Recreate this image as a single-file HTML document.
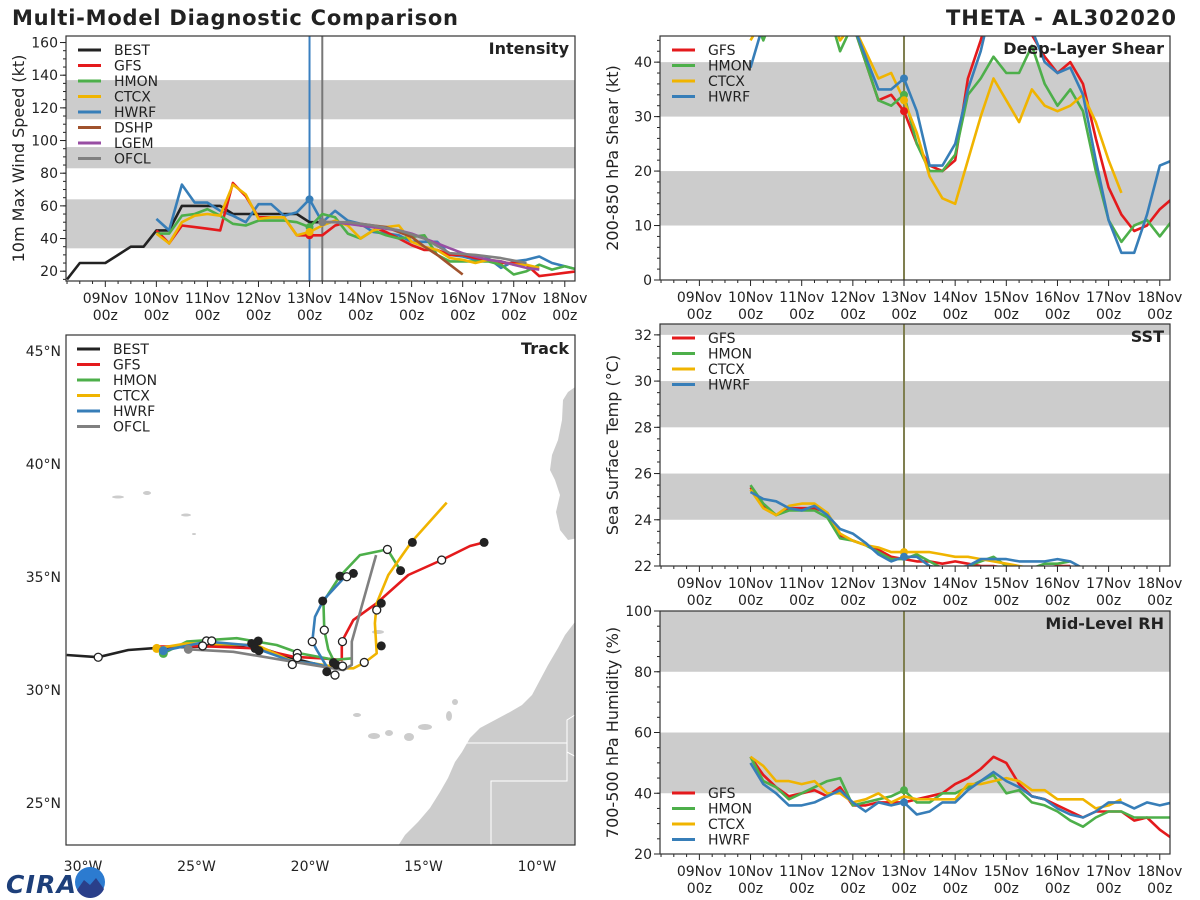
<!DOCTYPE html>
<html><head><meta charset="utf-8"><style>
html,body{margin:0;padding:0;background:#fff;}
svg{display:block;font-family:"DejaVu Sans","Liberation Sans",sans-serif;}
</style></head><body>
<svg id="fig" width="1200" height="900" viewBox="0 0 1200 900" xmlns="http://www.w3.org/2000/svg">
<rect width="1200" height="900" fill="#fff"/>
<text x="12" y="25" font-size="21" font-weight="bold" fill="#222" textLength="446">Multi-Model Diagnostic Comparison</text>
<text x="1176" y="25" font-size="21" font-weight="bold" fill="#222" text-anchor="end" textLength="230">THETA - AL302020</text>
<g id="logo">
<text x="6" y="893" font-size="25" font-weight="bold" fill="#1d3f7a" font-style="italic" textLength="70">CIRA</text>
<circle cx="90" cy="882" r="15" fill="#2c7bd0"/>
<path d="M77,890 L84,880 L90,885 L96,878 L104,889 A15,15 0 0 1 77,890Z" fill="#2a3f8a"/>
</g>
</svg>
<script>
// ---------- Time-series data (6-hourly, days from 09Nov 00z) ----------
const dayLabels = ["09Nov","10Nov","11Nov","12Nov","13Nov","14Nov","15Nov","16Nov","17Nov","18Nov"];
const intensityTicks = [20,40,60,80,100,120,140,160];
const shearTicks = [0,10,20,30,40];
const sstTicks = [22,24,26,28,30,32];
const rhTicks = [20,40,60,80,100];

const bestStart = -0.75;
const bestVmax = [15,25,25,25,30,35,35,45,45,60,60,60,60,55,55,55,55,55,55,50,50];
const gfsVmax = [45,37,48,47,46,45,74,66,53,53,53,42,42,42,48,50,48,47,44,40,36,33,33,30,30,28,27,25,25,24,17,18,19,20];
const hmonVmax = [43,43,54,55,58,54,49,48,51,51,51,50,47,55,53,43,40,45,42,40,41,42,30,26,26,26,26,24,18,20,24,21,23,21];
const ctcxVmax = [43,37,50,54,55,54,73,67,52,53,53,42,44,48,51,48,40,45,47,48,38,35,33,28,27,25,27,26,24,24,22];
const hwrfVmax = [52,45,73,62,62,57,54,50,61,61,54,56,64,50,57,51,49,44,43,42,38,38,38,30,29,27,28,22,26,27,29,25,23,21];
const dshpStart = 4.25;
const dshpVmax = [50,50,49,49,48,47,44,41,35,30,24,18];
const lgemVmax = [50,50,49,48,47,46,45,43,40,37,34,31,29,27,26,24,22,21];
const ofclVmax = [50,50,48,45,40,31,30,28,25];

const gfsShear = [52,52,52,52,52,52,52,50,47,40,33,34,31,25,21,20,22,37,44,52,55,55,45,41,38,40,36,26,17,12,9,10,13,15];
const hmonShear = [50,44,50,52,52,50,50,42,47,40,33,32,34,25,20,20,23,34,37,41,38,38,43,36,32,35,31,20,11,7,10,11,8,11];
const ctcxShear = [44,48,50,52,52,50,50,44,47,42,37,38,33,27,19,15,14,22,30,37,33,29,35,32,31,32,34,29,22,16];
const hwrfShear = [39,47,52,52,52,52,52,50,47,41,35,35,37,31,21,21,25,35,42,52,55,55,46,40,38,39,34,22,11,5,5,12,21,22];

const gfsSst = [25.4,24.6,24.2,24.5,24.5,24.5,24.3,23.3,23.1,22.9,22.7,22.4,22.3,22.2,22.2,22.1,22.2,22.1,22.0,22.0,21.9,21.9,21.9,21.9,22.0,22.0];
const hmonSst = [25.5,24.7,24.2,24.4,24.4,24.4,24.1,23.2,23.1,22.9,22.6,22.3,22.3,22.5,22.2,21.9,21.9,22.0,22.2,22.4,22.0,21.9,21.9,22.1,22.1,22.2];
const ctcxSst = [25.3,24.5,24.2,24.6,24.7,24.7,24.3,23.4,23.1,22.9,22.8,22.6,22.6,22.6,22.6,22.5,22.4,22.4,22.3,22.2,22.1,22.0,21.9];
const hwrfSst = [25.2,24.9,24.8,24.5,24.4,24.6,24.2,23.6,23.4,23.0,22.5,22.2,22.4,22.4,22.0,21.9,21.9,22.0,22.3,22.3,22.3,22.2,22.2,22.2,22.3,22.2,21.9];

const gfsRh = [52,46,42,39,40,41,39,42,36,36,37,37,37,38,39,40,43,45,48,52,50,43,39,38,36,34,32,34,34,34,31,32,28,25];
const hmonRh = [52,44,42,38,40,42,44,45,36,37,38,39,41,37,37,40,40,42,44,46,40,41,37,36,34,31,29,32,34,34,32,32,32,32];
const ctcxRh = [52,49,44,44,43,44,40,40,37,38,40,37,39,38,38,38,38,43,43,44,45,44,41,41,38,38,38,35,36,38];
const hwrfRh = [50,43,40,36,36,37,39,41,37,34,37,36,37,33,34,37,37,41,44,47,44,42,39,38,35,33,32,34,37,37,35,37,36,37];

// ---------- Track data (lon, lat) ----------
const bestLon = [-30.72,-29.33,-28.0,-26.6,-24.7,-22.57,-20.74,-19.26,-18.82];
const bestLat = [31.55,31.45,31.77,31.87,31.92,31.99,31.4,31.03,31.1];
const gfsLon = [-26.75,-24.7,-22.35,-20.73,-19.41,-18.6,-18.6,-18.09,-17.06,-15.67,-14.2,-12.95,-12.33];
const gfsLat = [31.92,31.94,31.84,31.47,31.4,31.33,32.14,33.1,33.84,35.09,35.75,36.37,36.53];
const hmonLon = [-26.46,-25.43,-23.23,-21.47,-20.44,-19.26,-18.97,-18.2,-18.97,-19.2,-19.37,-19.41,-18.68,-17.8,-16.59,-16.01];
const hmonLat = [31.62,32.14,32.29,31.99,31.62,31.4,31.33,31.4,31.33,31.8,32.65,33.91,35.04,35.97,36.22,35.28];
const ctcxLon = [-26.75,-25.43,-22.35,-20.73,-19.85,-18.53,-18.09,-17.58,-17.06,-17.14,-17.06,-16.55,-15.52,-13.98];
const ctcxLat = [31.84,32.06,31.99,31.25,31.18,30.96,30.96,31.22,31.62,32.95,33.84,35.09,36.56,38.29];
const hwrfLon = [-26.46,-24.56,-22.79,-20.73,-19.85,-19.26,-19.7,-19.9,-19.78,-19.41,-18.46,-17.9];
const hwrfLat = [31.74,32.14,31.99,31.25,31.18,31.03,31.77,32.14,33.24,33.98,35.01,35.19];
const ofclLon = [-25.36,-23.38,-20.73,-18.53,-18.16,-18.16,-17.09];
const ofclLat = [31.8,31.69,31.25,30.88,31.11,32.14,35.97];
const openLon = [-29.33,-24.56,-24.33,-24.73,-20.56,-20.56,-20.78,-19.9,-19.37,-18.57,-18.38,-16.59,-14.2,-17.06,-17.61,-18.57,-18.9];
const openLat = [31.45,32.17,32.17,31.95,31.62,31.43,31.13,32.14,32.65,32.14,35.01,36.22,35.75,33.54,31.22,31.06,30.66];
const fillLon = [-22.57,-22.28,-22.42,-22.25,-19.26,-18.97,-18.84,-19.44,-18.68,-18.09,-16.01,-15.49,-12.33,-16.86,-16.86];
const fillLat = [32.06,32.17,31.84,31.74,30.81,31.21,31.11,33.94,35.04,35.16,35.28,36.53,36.53,31.95,33.84];
const latTicks = [45,40,35,30,25];
const lonTicks = [-30,-25,-20,-15,-10];

// ---------- helpers ----------
const NS = "http://www.w3.org/2000/svg";
const svg = document.getElementById("fig");
function mk(tag, attrs, parent) {
  const e = document.createElementNS(NS, tag);
  for (const k in attrs) e.setAttribute(k, attrs[k]);
  (parent || svg).appendChild(e);
  return e;
}
const COL = {BEST:"#222222",GFS:"#e41a1c",HMON:"#4daf4a",CTCX:"#f0b400",HWRF:"#377eb8",DSHP:"#a0522d",LGEM:"#984ea3",OFCL:"#808080"};
const XMIN = -0.77, XMAX = 9.2;
let clipId = 0;

function makePanel(name, L, R, T, B, ymin, ymax, ticks, minorStep, bands, ylabel, title) {
  const g = mk("g", {});
  
  
  const sx = t => L + (t - XMIN) / (XMAX - XMIN) * (R - L);
  const sy = v => B - (v - ymin) / (ymax - ymin) * (B - T);
  clipId++;
  const cp = mk("clipPath", {id: "cp" + clipId}, g);
  mk("rect", {x: L, y: T, width: R - L, height: B - T}, cp);
  const inner = mk("g", {"clip-path": "url(#cp" + clipId + ")"}, g);
  bands.forEach(b => {
    const r = mk("rect", {x: L, y: sy(b[1]), width: R - L, height: sy(b[0]) - sy(b[1]), fill: "#cccccc"}, inner);
    
    
  });
  // y ticks
  for (let v = ymin - (ymin % minorStep); v <= ymax; v += minorStep) {
    if (v < ymin) continue;
    mk("line", {x1: L - 3, x2: L, y1: sy(v), y2: sy(v), stroke: "#222", "stroke-width": 1}, g);
  }
  ticks.forEach(v => {
    mk("line", {x1: L - 6, x2: L, y1: sy(v), y2: sy(v), stroke: "#222", "stroke-width": 1}, g);
    const t = mk("text", {x: L - 8, y: sy(v) + 5, "font-size": 14, "text-anchor": "end", fill: "#222"}, g);
    t.textContent = v;
    
    
  });
  // x ticks
  for (let t = -0.75; t <= XMAX; t += 0.25) {
    const maj = Math.abs(t - Math.round(t)) < 1e-6;
    mk("line", {x1: sx(t), x2: sx(t), y1: B, y2: B + (maj ? 6 : 3), stroke: "#222", "stroke-width": 1}, g);
  }
  dayLabels.forEach((d, i) => {
    const a = mk("text", {x: sx(i), y: B + 22, "font-size": 14, "text-anchor": "middle", fill: "#222"}, g);
    a.textContent = d;
    
    
    const b = mk("text", {x: sx(i), y: B + 39, "font-size": 14, "text-anchor": "middle", fill: "#222"}, g);
    b.textContent = "00z";
    
    
  });
  const yl = mk("text", {x: 0, y: 0, "font-size": 16, "text-anchor": "middle", fill: "#222",
    transform: "translate(" + (L - 42) + "," + ((T + B) / 2) + ") rotate(-90)"}, g);
  yl.textContent = ylabel;
  
  
  const tt = mk("text", {x: R - 6, y: T + 18, "font-size": 16, "font-weight": "bold", "text-anchor": "end", fill: "#222"}, g);
  tt.textContent = title;
  
  
  return {g, inner, sx, sy, L, R, T, B};
}
function series(p, start, step, vals, color, name) {
  const pts = vals.map((v, i) => p.sx(start + i * step).toFixed(1) + "," + p.sy(v).toFixed(1)).join(" ");
  const pl = mk("polyline", {points: pts, fill: "none", stroke: color, "stroke-width": 2.6, "stroke-linejoin": "round"}, p.inner);
  
  
}
function dot(p, t, v, color) {
  const c = mk("circle", {cx: p.sx(t), cy: p.sy(v), r: 4, fill: color}, p.inner);
  
  
}
function frame(p) {
  const f = mk("rect", {x: p.L, y: p.T, width: p.R - p.L, height: p.B - p.T, fill: "none", stroke: "#333", "stroke-width": 1.2}, p.g);
  
  
}
function legend(parent, x, y0, dy, names) {
  names.forEach((n, i) => {
    const g = mk("g", {}, parent);
    
    
    mk("line", {x1: x, x2: x + 23, y1: y0 + i * dy, y2: y0 + i * dy, stroke: COL[n], "stroke-width": 3}, g);
    const t = mk("text", {x: x + 36, y: y0 + i * dy + 5, "font-size": 14, fill: "#222"}, g);
    t.textContent = n;
  });
}
function vline(p, t, color, w) {
  const l = mk("line", {x1: p.sx(t), x2: p.sx(t), y1: p.T, y2: p.B, stroke: color, "stroke-width": w}, p.inner);
  
  
}

// ---------- Intensity ----------
const P1 = makePanel("intensity", 66, 575, 36, 281, 14, 164, intensityTicks, 5, [[34,64],[83,96],[113,137]], "10m Max Wind Speed (kt)", "Intensity");
vline(P1, 4, "#3a7fc0", 2); vline(P1, 4.25, "#777", 2);
series(P1, bestStart, 0.25, bestVmax, COL.BEST, "best-line");
series(P1, 1, 0.25, hwrfVmax, COL.HWRF, "hwrf-line");
series(P1, 1, 0.25, gfsVmax, COL.GFS, "gfs-line");
series(P1, 1, 0.25, hmonVmax, COL.HMON, "hmon-line");
series(P1, 1, 0.25, ctcxVmax, COL.CTCX, "ctcx-line");
series(P1, dshpStart, 0.25, dshpVmax, COL.DSHP, "dshp-line");
series(P1, dshpStart, 0.25, lgemVmax, COL.LGEM, "lgem-line");
series(P1, dshpStart, 0.5, ofclVmax, COL.OFCL, "ofcl-line");
dot(P1, 4, gfsVmax[12], COL.GFS); dot(P1, 4, hmonVmax[12], COL.HMON); dot(P1, 4, ctcxVmax[12], COL.CTCX); dot(P1, 4, hwrfVmax[12], COL.HWRF); dot(P1, 4.25, ofclVmax[0], COL.OFCL);
frame(P1);
legend(P1.g, 78, 50, 15.5, ["BEST","GFS","HMON","CTCX","HWRF","DSHP","LGEM","OFCL"]);

// ---------- Shear ----------
const P2 = makePanel("shear", 660, 1170, 36, 280, 0, 44.8, shearTicks, 2, [[10,20],[30,40]], "200-850 hPa Shear (kt)", "Deep-Layer Shear");
vline(P2, 4, "#7f7f50", 2);
series(P2, 1, 0.25, gfsShear, COL.GFS, "gfs-shear-line");
series(P2, 1, 0.25, hmonShear, COL.HMON, "hmon-shear-line");
series(P2, 1, 0.25, ctcxShear, COL.CTCX, "ctcx-shear-line");
series(P2, 1, 0.25, hwrfShear, COL.HWRF, "hwrf-shear-line");
dot(P2, 4, gfsShear[12], COL.GFS); dot(P2, 4, hmonShear[12], COL.HMON); dot(P2, 4, ctcxShear[12], COL.CTCX); dot(P2, 4, hwrfShear[12], COL.HWRF);
frame(P2);
legend(P2.g, 672, 50, 15.5, ["GFS","HMON","CTCX","HWRF"]);

// ---------- SST ----------
const P3 = makePanel("sst", 660, 1170, 324, 566, 22, 32.47, sstTicks, 0.5, [[24,26],[28,30],[32,33]], "Sea Surface Temp (°C)", "SST");
vline(P3, 4, "#7f7f50", 2);
series(P3, 1, 0.25, gfsSst, COL.GFS, "gfs-sst-line");
series(P3, 1, 0.25, hmonSst, COL.HMON, "hmon-sst-line");
series(P3, 1, 0.25, ctcxSst, COL.CTCX, "ctcx-sst-line");
series(P3, 1, 0.25, hwrfSst, COL.HWRF, "hwrf-sst-line");
dot(P3, 4, ctcxSst[12], COL.CTCX); dot(P3, 4, hwrfSst[12], COL.HWRF);
frame(P3);
legend(P3.g, 672, 338, 15.5, ["GFS","HMON","CTCX","HWRF"]);

// ---------- RH ----------
const P4 = makePanel("rh", 660, 1170, 611, 854, 20, 100, rhTicks, 5, [[40,60],[80,100]], "700-500 hPa Humidity (%)", "Mid-Level RH");
vline(P4, 4, "#7f7f50", 2);
series(P4, 1, 0.25, gfsRh, COL.GFS, "gfs-rh-line");
series(P4, 1, 0.25, hmonRh, COL.HMON, "hmon-rh-line");
series(P4, 1, 0.25, ctcxRh, COL.CTCX, "ctcx-rh-line");
series(P4, 1, 0.25, hwrfRh, COL.HWRF, "hwrf-rh-line");
dot(P4, 4, hmonRh[12], COL.HMON); dot(P4, 4, hwrfRh[12], COL.HWRF);
frame(P4);
legend(P4.g, 672, 793, 15.5, ["GFS","HMON","CTCX","HWRF"]);

// ---------- Track map ----------
const TL = 66, TR = 575, TT = 335, TB = 845;
const lx = lon => 537 + (lon + 10) * 22.7;
const ly = lat => 690 - (lat - 30) * 22.6;
const mapG = mk("g", {});


mk("clipPath", {id: "cpmap"}, mapG).appendChild(Object.assign(document.createElementNS(NS, "rect"), {}));
document.querySelector("#cpmap rect").setAttribute("x", TL);
document.querySelector("#cpmap rect").setAttribute("y", TT);
document.querySelector("#cpmap rect").setAttribute("width", TR - TL);
document.querySelector("#cpmap rect").setAttribute("height", TB - TT);
const mapIn = mk("g", {"clip-path": "url(#cpmap)"}, mapG);
const land = mk("g", {fill: "#cccccc"}, mapIn);


mk("polygon", {points: "398,846 405,835 418,822 430,808 440,792 448,778 455,762 462,752 470,738 480,728 495,720 510,712 522,705 532,695 540,680 548,665 558,648 565,635 578,618 578,846"}, land);
mk("polygon", {points: "578,385 568,392 563,400 562,420 558,440 552,455 550,470 555,480 560,495 556,512 560,530 568,540 578,538"}, land);
[[357,715,4,2],[374,736,6,3],[389,733,4,3],[409,737,5,4],[425,727,7,3],[449,716,3,5],[455,702,3,3],[378,632,6,2],[118,497,6,1.5],[147,493,4,2],[186,515,5,1.5],[194,534,2,1]].forEach(e => mk("ellipse", {cx: e[0], cy: e[1], rx: e[2], ry: e[3]}, land));
mk("polyline", {points: "491,846 491,781 567,781 567,720 578,713", fill: "none", stroke: "#fff", "stroke-width": 1}, mapIn);
mk("polyline", {points: "465,743 567,743", fill: "none", stroke: "#fff", "stroke-width": 1}, mapIn);
mk("polyline", {points: "567,752 578,758", fill: "none", stroke: "#fff", "stroke-width": 1}, mapIn);
function track(lons, lats, color, name) {
  const pts = lons.map((v, i) => lx(v).toFixed(1) + "," + ly(lats[i]).toFixed(1)).join(" ");
  const pl = mk("polyline", {points: pts, fill: "none", stroke: color, "stroke-width": 2.6, "stroke-linejoin": "round"}, mapIn);
  
  
}
track(bestLon, bestLat, COL.BEST, "best-track");
track(gfsLon, gfsLat, COL.GFS, "gfs-track");
track(hmonLon, hmonLat, COL.HMON, "hmon-track");
track(ctcxLon, ctcxLat, COL.CTCX, "ctcx-track");
track(hwrfLon, hwrfLat, COL.HWRF, "hwrf-track");
track(ofclLon, ofclLat, COL.OFCL, "ofcl-track");
[[ctcxLon, ctcxLat, COL.CTCX],[hmonLon, hmonLat, COL.HMON],[hwrfLon, hwrfLat, COL.HWRF],[ofclLon, ofclLat, COL.OFCL]].forEach(a => {
  const c = mk("circle", {cx: lx(a[0][0]), cy: ly(a[1][0]), r: 4.5, fill: a[2]}, mapIn);
  
  
});
fillLon.forEach((v, i) => {
  const c = mk("circle", {cx: lx(v), cy: ly(fillLat[i]), r: 4.5, fill: "#222"}, mapIn);
  
  
});
openLon.forEach((v, i) => {
  const c = mk("circle", {cx: lx(v), cy: ly(openLat[i]), r: 4, fill: "#fff", stroke: "#222", "stroke-width": 1.3}, mapIn);
  
  
});
latTicks.forEach(v => {
  const t = mk("text", {x: 61, y: ly(v) + 5, "font-size": 14, "text-anchor": "end", fill: "#222"}, mapG);
  t.textContent = v + "°N";
  
  
});
lonTicks.forEach(v => {
  const t = mk("text", {x: lx(v), y: 871, "font-size": 14, "text-anchor": "middle", fill: "#222"}, mapG);
  t.textContent = (-v) + "°W";
  
  
});
const mf = mk("rect", {x: TL, y: TT, width: TR - TL, height: TB - TT, fill: "none", stroke: "#333", "stroke-width": 1.2}, mapG);


const mt = mk("text", {x: TR - 6, y: TT + 19, "font-size": 16, "font-weight": "bold", "text-anchor": "end", fill: "#222"}, mapG);
mt.textContent = "Track";


legend(mapG, 77, 349, 15.5, ["BEST","GFS","HMON","CTCX","HWRF","OFCL"]);
svg.appendChild(document.getElementById("logo"));
</script>
</body></html>
